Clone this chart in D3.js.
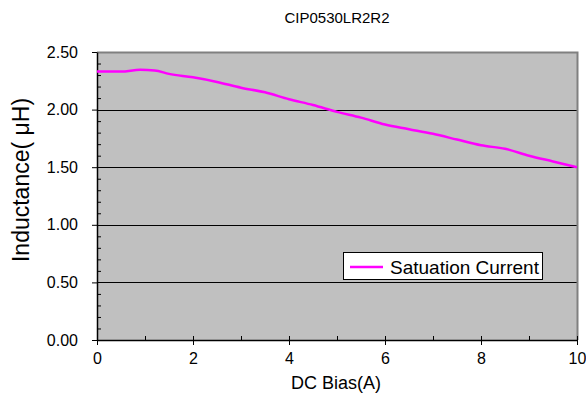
<!DOCTYPE html>
<html><head><meta charset="utf-8">
<script src="https://cdn.jsdelivr.net/npm/d3@7"></script>
<style>body{margin:0;background:#fff;} text{font-family:"Liberation Sans",Arial,sans-serif;}</style>
</head><body><svg id="c" width="586" height="405"></svg>
<script>
const title = "CIP0530LR2R2";
const xLabel = "DC Bias(A)";
const yLabel = "Inductance( μH)";
const seriesName = "Satuation Current";
const biasA = [0, 0.5, 0.9, 1.2, 1.5, 2, 2.5, 3, 3.5, 4, 4.5, 5, 5.5, 6, 6.5, 7, 7.5, 8, 8.5, 9, 9.5, 10];
const inductance = [2.33, 2.33, 2.345, 2.34, 2.31, 2.28, 2.24, 2.19, 2.15, 2.09, 2.04, 1.98, 1.93, 1.87, 1.83, 1.79, 1.74, 1.69, 1.66, 1.60, 1.55, 1.50];
const xTicks = [0, 2, 4, 6, 8, 10];
const yTicks = [0, 0.5, 1.0, 1.5, 2.0, 2.5];

const svg = d3.select("#c");
const L = 97, R = 577, T = 52, B = 340;
const x = d3.scaleLinear().domain([0, 10]).range([L, R]);
const y = d3.scaleLinear().domain([0, 2.5]).range([B, T]);

svg.append("rect").attr("x", L).attr("y", T).attr("width", R - L).attr("height", B - T).attr("fill", "#c0c0c0");
// gridlines
svg.append("g").selectAll("line").data(yTicks.filter(d => d > 0 && d < 2.5)).join("line")
  .attr("x1", L).attr("x2", R).attr("y1", d => Math.round(y(d)) + 0.5).attr("y2", d => Math.round(y(d)) + 0.5)
  .attr("stroke", "#000").attr("stroke-width", 1);
// top/right border
svg.append("path").attr("d", `M${L},${T + 0.5}H${R + 0.5}V${B}`).attr("fill", "none").attr("stroke", "#808080").attr("stroke-width", 2);

// minor ticks y (inside)
const yMinor = d3.range(0, 2.5001, 0.1).filter(v => Math.abs(v * 2 - Math.round(v * 2)) > 1e-6);
svg.append("g").attr("transform", `translate(${L},0)`)
  .call(d3.axisRight(y).tickValues(yMinor).tickSize(4).tickFormat(""))
  .call(g => g.select(".domain").remove());
// y axis major
svg.append("g").attr("transform", `translate(${L},0)`)
  .call(d3.axisLeft(y).tickValues(yTicks).tickSize(5).tickSizeOuter(0).tickFormat(d3.format(".2f")).tickPadding(14))
  .call(g => g.selectAll("text").attr("font-size", 16).attr("fill", "#000").attr("font-family", "Liberation Sans, Arial, sans-serif"))
  .call(g => g.select(".domain").attr("stroke-width", 1.5));

// x minor ticks (inside)
svg.append("g").attr("transform", `translate(0,${B})`)
  .call(d3.axisTop(x).tickValues([1, 3, 5, 7, 9]).tickSize(4).tickFormat(""))
  .call(g => g.select(".domain").remove());
svg.append("g").attr("transform", `translate(0,${B})`)
  .call(d3.axisBottom(x).tickValues(xTicks).tickSize(5).tickSizeOuter(0).tickFormat(d3.format("d")).tickPadding(8))
  .call(g => g.selectAll(".tick line").attr("y1", -4))
  .call(g => g.selectAll("text").attr("font-size", 16).attr("fill", "#000").attr("font-family", "Liberation Sans, Arial, sans-serif"))
  .call(g => g.select(".domain").attr("stroke-width", 1.5));

// line
const pts = biasA.map((b, i) => [b, inductance[i]]);
svg.append("path").datum(pts)
  .attr("d", d3.line().x(d => x(d[0])).y(d => y(d[1])).curve(d3.curveMonotoneX))
  .attr("fill", "none").attr("stroke", "#ff00ff").attr("stroke-width", 2.5);

// titles
svg.append("text").attr("x", 337).attr("y", 23).attr("text-anchor", "middle").attr("font-size", 15).text(title);
svg.append("text").attr("x", 336).attr("y", 389).attr("text-anchor", "middle").attr("font-size", 18).text(xLabel);
svg.append("text").attr("transform", `translate(29,180) rotate(-90)`).attr("text-anchor", "middle").attr("font-size", 23).text(yLabel);

// legend
const lg = svg.append("g");
lg.append("rect").attr("x", 343.5).attr("y", 252.5).attr("width", 199).attr("height", 27).attr("fill", "#fff").attr("stroke", "#000");
lg.append("line").attr("x1", 350).attr("x2", 383).attr("y1", 267).attr("y2", 267).attr("stroke", "#ff00ff").attr("stroke-width", 2.5);
lg.append("text").attr("x", 390).attr("y", 273.5).attr("font-size", 19).text(seriesName);
</script></body></html>
